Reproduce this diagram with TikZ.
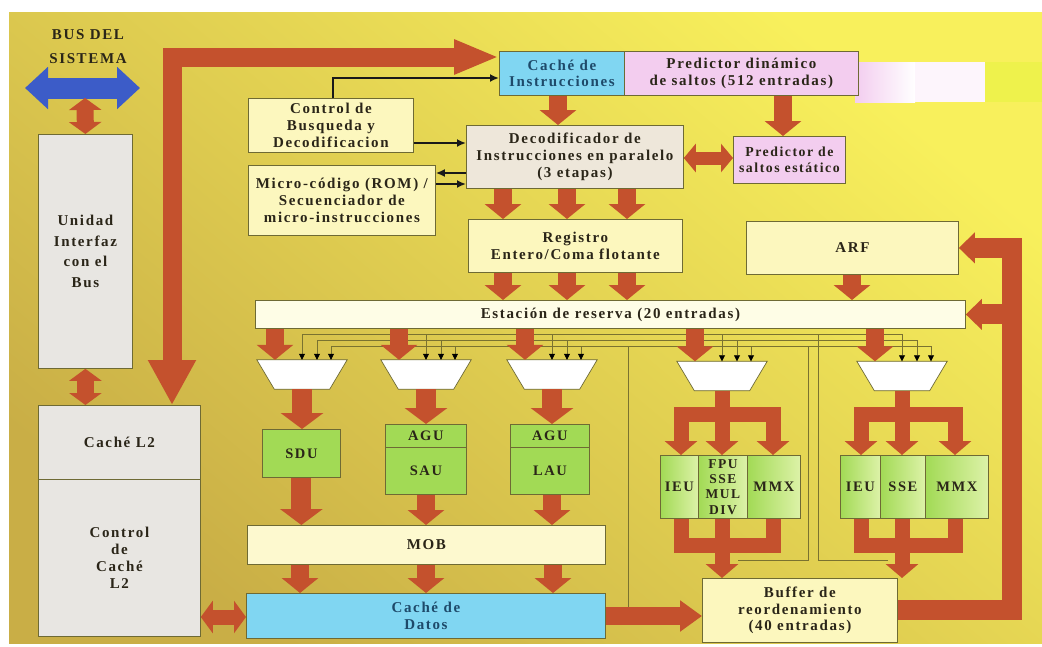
\documentclass[tikz,border=0pt]{standalone}
\usepackage{fontspec}
\setmainfont{Liberation Serif}
\newfontfamily\lblfont{Liberation Serif}[LetterSpace=11]
\usetikzlibrary{arrows.meta}

% palette
\definecolor{bgtop}{HTML}{F8F05C}
\definecolor{bgmid}{HTML}{F1E452}
\definecolor{bgbot}{HTML}{C9AE46}
\definecolor{edge}{HTML}{6E6A34}
\definecolor{ink}{HTML}{2A2518}
\definecolor{bluink}{HTML}{1E4A6A}
\definecolor{rust}{HTML}{C4512D}
\definecolor{busblue}{HTML}{3C5CC8}
\definecolor{paleyel}{HTML}{FCF7BE}
\definecolor{paleyel2}{HTML}{FDF9CF}
\definecolor{stationfill}{HTML}{FEFDE6}
\definecolor{cyanfill}{HTML}{80D6F2}
\definecolor{pinkfill}{HTML}{F3CDEF}
\definecolor{decfill}{HTML}{EEE7DA}
\definecolor{grayfill}{HTML}{E8E6E2}
\definecolor{greenfill}{HTML}{A2DA55}
\definecolor{greenlight}{HTML}{DDF2A8}
\definecolor{wirecol}{HTML}{7A7230}
\definecolor{limepatch}{HTML}{EEF24C}

\tikzset{
  blk/.style={draw=edge, line width=0.8pt, inner sep=1pt, align=center, text=ink,
    font=\lblfont\bfseries\fontsize{15}{16.8}\selectfont, anchor=north west},
  smallblk/.style={blk, font=\lblfont\bfseries\fontsize{14.5}{16}\selectfont},
  fu/.style={smallblk, left color=greenfill, right color=greenlight},
  muxslot/.style={minimum width=90pt, minimum height=29pt, inner sep=0pt},
  muxbody/.style={fill=white, draw=edge, line width=0.7pt},
  rarr/.style={rust, line width=18pt, -{Triangle[width=36pt,length=15pt]}},
  rarrw/.style={rust, line width=20pt, -{Triangle[width=42pt,length=16pt]}},
  rarrs/.style={rust, line width=15pt, -{Triangle[width=32pt,length=14pt]}},
  pipe/.style={rust, line width=15pt},
  rdbl/.style={rust, line width=15pt, {Triangle[width=32pt,length=12pt]}-{Triangle[width=32pt,length=12pt]}},
  fback/.style={rust, line width=20pt, -{Triangle[width=30pt,length=16pt]}},
  wire/.style={wirecol, line width=0.7pt},
  tap/.style={wirecol, line width=0.7pt, -{Triangle[width=6pt,length=6pt,color=black]}},
  ctl/.style={black!90, line width=2.2pt, -{Latex[width=8pt,length=9pt]}},
  headlbl/.style={text=ink, font=\lblfont\bfseries\fontsize{15}{16}\selectfont}
}

\begin{document}
\begin{tikzpicture}[x=1pt,y=-1pt]
\useasboundingbox (0,0) rectangle (1042,646);
\fill[white] (0,0) rectangle (1042,646);
% board background
\shade[top color=bgtop, middle color=bgmid, bottom color=bgbot, shading angle=-40]
  (9,12) rectangle (1042,643);
% garbled strip right of the dynamic predictor
\shade[left color=pinkfill, right color=white] (855,62) rectangle (915,102);
\fill[white!80!pinkfill] (915,62) rectangle (985,102);
\fill[limepatch] (985,62) rectangle (1042,102);

% system bus
\node[headlbl] (busa) at (88,35) {BUS DEL};
\node[headlbl] (busb) at (88,59) {SISTEMA};
\coordinate (busL) at (25,88);
\coordinate (busR) at (140,88);
\coordinate (busmid) at (85,98);
\draw[busblue, line width=21pt, {Triangle[width=41pt,length=23pt]}-{Triangle[width=41pt,length=23pt]}] (busL) -- (busR);

% left column
\node[blk, fill=grayfill, minimum width=94pt, minimum height=234pt,
  font=\lblfont\bfseries\fontsize{15}{20.5}\selectfont] (biu) at (38,134) {Unidad\\Interfaz\\con el\\Bus};
\node[blk, fill=grayfill, minimum width=162pt, minimum height=74pt] (l2) at (38,405) {Caché L2};
\node[blk, fill=grayfill, minimum width=162pt, minimum height=157pt] (l2ctl) at (38,479) {Control\\de\\Caché\\L2};

% front end
\node[blk, fill=cyanfill, text=bluink, minimum width=125pt, minimum height=44pt] (cachei) at (499,51) {Caché de\\Instrucciones};
\node[blk, fill=pinkfill, minimum width=234pt, minimum height=44pt] (pdyn) at (624,51) {Predictor dinámico\\de saltos (512 entradas)};
\node[blk, fill=paleyel, minimum width=165pt, minimum height=54pt] (ctrl) at (248,98) {Control de\\Busqueda y\\Decodificacion};
\node[blk, fill=paleyel, minimum width=187pt, minimum height=70pt] (micro) at (248,165) {Micro-código (ROM) /\\Secuenciador de\\micro-instrucciones};
\node[blk, fill=decfill, minimum width=217pt, minimum height=63pt] (decod) at (466,125) {Decodificador de\\Instrucciones en paralelo\\(3 etapas)};
\node[blk, fill=pinkfill, minimum width=112pt, minimum height=47pt,
  font=\lblfont\bfseries\fontsize{13.8}{16.5}\selectfont] (pest) at (733,136) {Predictor de\\saltos estático};
\node[blk, fill=paleyel, minimum width=214pt, minimum height=53pt] (reg) at (468,219) {Registro\\Entero/Coma flotante};
\node[blk, fill=paleyel, minimum width=212pt, minimum height=53pt] (arf) at (746,221) {ARF};
\node[blk, fill=stationfill, minimum width=710pt, minimum height=28pt] (est) at (255,300) {Estación de reserva (20 entradas)};

% dispatch multiplexers: a slot node each, drawn as a trapezium
\node[muxslot] (mux1) at (302,374.5) {};
\node[muxslot] (mux2) at (426,374.5) {};
\node[muxslot] (mux3) at (552,374.5) {};
\node[muxslot] (mux4) at (722,376) {};
\node[muxslot] (mux5) at (902,376) {};
\foreach \m in {mux1,mux2,mux3,mux4,mux5} {
  \draw[muxbody] (\m.north west) -- (\m.north east) -- ([xshift=-17.5pt]\m.south east)
    -- ([xshift=17.5pt]\m.south west) -- cycle;
}

% memory units
\node[smallblk, fill=greenfill, minimum width=78pt, minimum height=48pt] (sdu) at (262,429) {SDU};
\node[smallblk, fill=greenfill, minimum width=81pt, minimum height=23pt] (agu1) at (385,424) {AGU};
\node[smallblk, fill=greenfill, minimum width=81pt, minimum height=47pt] (sau) at (385,447) {SAU};
\node[smallblk, fill=greenfill, minimum width=79pt, minimum height=23pt] (agu2) at (510,424) {AGU};
\node[smallblk, fill=greenfill, minimum width=79pt, minimum height=47pt] (lau) at (510,447) {LAU};
\node[blk, fill=paleyel2, minimum width=358pt, minimum height=39pt] (mob) at (247,525) {MOB};
\node[blk, fill=cyanfill, text=bluink, minimum width=359pt, minimum height=45pt] (datos) at (246,593) {Caché de\\Datos};

% execution units
\node[fu, minimum width=38pt, minimum height=63pt] (ieu1) at (660,455) {IEU};
\node[fu, minimum width=49pt, minimum height=63pt, inner sep=0pt,
  font=\lblfont\bfseries\fontsize{13.5}{15.2}\selectfont] (fpu) at (698,455) {FPU\\SSE\\MUL\\DIV};
\node[fu, minimum width=53pt, minimum height=63pt] (mmx1) at (747,455) {MMX};
\node[fu, minimum width=40pt, minimum height=63pt] (ieu2) at (840,455) {IEU};
\node[fu, minimum width=45pt, minimum height=63pt] (sse) at (880,455) {SSE};
\node[fu, minimum width=63pt, minimum height=63pt] (mmx2) at (925,455) {MMX};
\node[blk, fill=paleyel, minimum width=195pt, minimum height=64pt] (buf) at (702,578) {Buffer de\\reordenamiento\\(40 entradas)};

% operand bus (three lines) and its taps into the multiplexers
\draw[wire] (302,334) -- (902,334);
\draw[wire] (317,340) -- (917,340);
\draw[wire] (331,346) -- (931,346);
\foreach \m/\c in {mux1/302, mux2/426, mux3/552, mux4/722, mux5/902} {
  \draw[tap] (\c,334) -- (\c,0 |- \m.north);
  \draw[tap] (\c+15,340) -- (\c+15,0 |- \m.north);
  \draw[tap] (\c+29,346) -- (\c+29,0 |- \m.north);
}
% result wires
\draw[wire] (628,346) -- (628,607);
\draw[wire] (808,346) -- (808,560) -- (738,560);
\draw[wire] (818,334) -- (818,560) -- (888,560);

% system bus to interface unit and L2
\draw[rust, line width=17pt, {Triangle[width=32pt,length=12pt]}-{Triangle[width=32pt,length=12pt]}] (busmid) -- (biu.north);
\draw[rust, line width=17pt, {Triangle[width=32pt,length=12pt]}-{Triangle[width=32pt,length=12pt]}] (biu.south) -- (l2.north -| biu.south);
\draw[rdbl] (l2ctl.east |- 0,617) -- (datos.west |- 0,617);

% L2 <-> instruction cache
\draw[rust, line width=19pt, line join=miter,
  {Triangle[width=45pt,length=45pt]}-{Triangle[width=32pt,length=45pt]}]
  (172,0 |- l2.north) -- (172,57) -- (cachei.west |- 0,57);

% fetch control
\draw[ctl] (333,0 |- ctrl.north) -- (333,78) -- (cachei.west |- 0,78);
\draw[ctl] (ctrl.east |- 0,143) -- (decod.west |- 0,143);
\draw[ctl] (decod.west |- 0,173) -- (micro.east |- 0,173);
\draw[ctl] (micro.east |- 0,184) -- (decod.west |- 0,184);

% front end flow
\draw[rarr] (558,0 |- cachei.south) -- (558,0 |- decod.north);
\draw[rarr] (783,0 |- pdyn.south) -- (783,0 |- pest.north);
\draw[rust, line width=13pt, {Triangle[width=28pt,length=12pt]}-{Triangle[width=28pt,length=12pt]}] (decod.east |- 0,158) -- (pest.west |- 0,158);
\foreach \x in {503,567,627} {
  \draw[rarr] (\x,0 |- decod.south) -- (\x,0 |- reg.north);
  \draw[rarr] (\x,0 |- reg.south) -- (\x,0 |- est.north);
}
\draw[rarr] (852,0 |- arf.south) -- (852,0 |- est.north);

% reservation station to multiplexers
\foreach \m/\c in {mux1/302, mux2/426, mux3/552, mux4/722, mux5/902} {
  \draw[rarr] (\c-27,0 |- est.south) -- (\c-27,0 |- \m.north);
}

% memory pipeline
\draw[rarrw] (mux1.south) -- (mux1.south |- sdu.north);
\draw[rarrw] (mux2.south) -- (mux2.south |- agu1.north);
\draw[rarrw] (mux3.south) -- (mux3.south |- agu2.north);
\draw[rarrw] (sdu.south) -- (sdu.south |- mob.north);
\draw[rarr] (426,0 |- sau.south) -- (426,0 |- mob.north);
\draw[rarr] (552,0 |- lau.south) -- (552,0 |- mob.north);
\foreach \x in {300,426,553} {
  \draw[rarr] (\x,0 |- mob.south) -- (\x,0 |- datos.north);
}
\draw[rust, line width=18pt, -{Triangle[width=30pt,length=22pt]}] (datos.east |- 0,616) -- (buf.west |- 0,616);

% execution group 1
\draw[pipe] (mux4.south) -- (722,414);
\draw[pipe, line cap=rect] (681,414) -- (773,414);
\draw[rarrs] (681,414) -- (681,0 |- ieu1.north);
\draw[rarrs] (722,414) -- (722,0 |- fpu.north);
\draw[rarrs] (773,414) -- (773,0 |- mmx1.north);
\draw[pipe, line join=miter] (681,0 |- ieu1.south) -- (681,545) -- (773,545) -- (773,0 |- mmx1.south);
\draw[rarrs] (722,0 |- fpu.south) -- (722,0 |- buf.north);

% execution group 2
\draw[pipe] (mux5.south) -- (902,414);
\draw[pipe, line cap=rect] (861,414) -- (955,414);
\draw[rarrs] (861,414) -- (861,0 |- ieu2.north);
\draw[rarrs] (902,414) -- (902,0 |- sse.north);
\draw[rarrs] (955,414) -- (955,0 |- mmx2.north);
\draw[pipe, line join=miter] (861,0 |- ieu2.south) -- (861,545) -- (955,545) -- (955,0 |- mmx2.south);
\draw[rarrs] (902,0 |- sse.south) -- (902,0 |- buf.north);

% retirement feedback
\draw[fback, line join=miter] (buf.east) -- (1012,0 |- buf.east) -- (1012,0 |- arf.east) -- (arf.east);
\draw[fback] (1012,0 |- est.east) -- (est.east);
\end{tikzpicture}
\end{document}
